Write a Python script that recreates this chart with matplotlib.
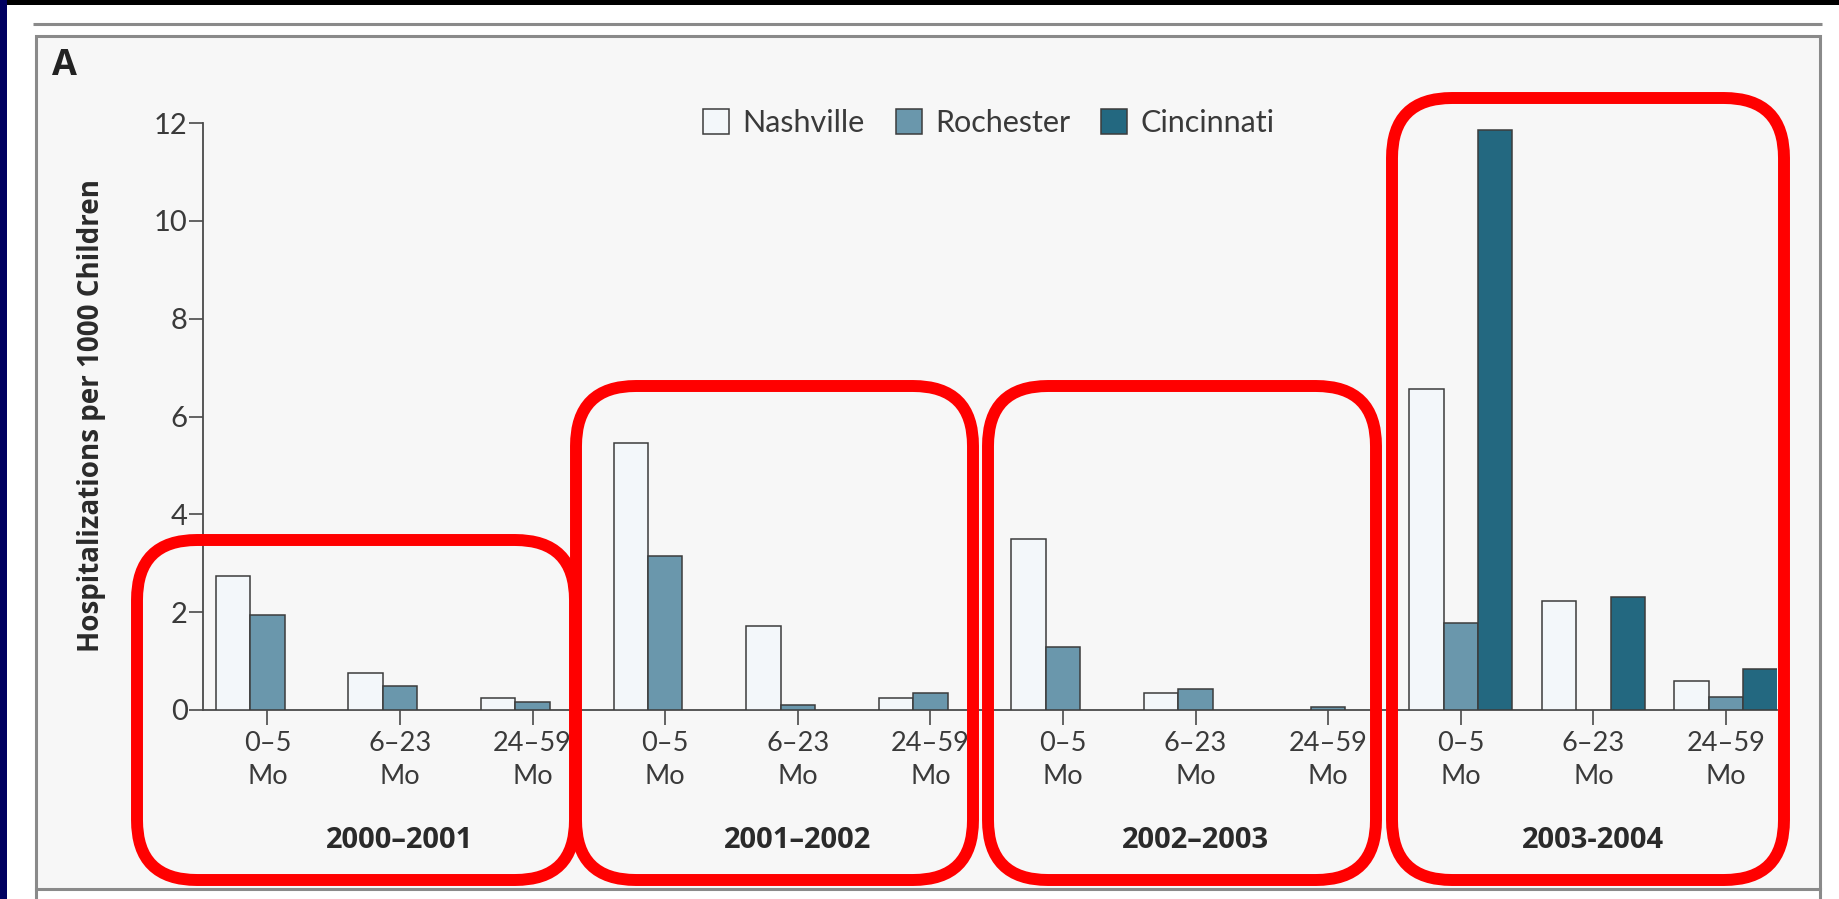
import numpy as np
import matplotlib
matplotlib.use("Agg")
import matplotlib.pyplot as plt
from matplotlib.patches import Rectangle, FancyBboxPatch, Patch

# ---- data -------------------------------------------------------------
seasons = ["2000–2001", "2001–2002", "2002–2003", "2003-2004"]
age_groups = ["0–5\nMo", "6–23\nMo", "24–59\nMo"]
cities = ["Nashville", "Rochester", "Cincinnati"]

nan = np.nan
nashville = [2.73, 0.76, 0.24, 5.46, 1.71, 0.24, 3.50, 0.34, nan, 6.57, 2.22, 0.59]
rochester = [1.94, 0.50, 0.16, 3.15, 0.10, 0.34, 1.28, 0.42, 0.07, 1.78, nan, 0.26]
cincinnati = [nan, nan, nan, nan, nan, nan, nan, nan, nan, 11.85, 2.30, 0.84]

y_ticks = [0, 2, 4, 6, 8, 10, 12]
y_label = "Hospitalizations per 1000 Children"
panel_letter = "A"

# ---- styling ----------------------------------------------------------
colors = ["#f3f7fa", "#6a97ac", "#236880"]
edge = "#3c3c3c"
text_col = "#3a3a3a"
panel_bg = "#f7f7f7"
frame_col = "#8a8a8a"
regular = ["Lato", "DejaVu Sans"]
bold = ["Open Sans", "DejaVu Sans"]

W, H = 1839, 899
fig = plt.figure(figsize=(W / 100, H / 100), dpi=100)
fig.patch.set_facecolor("white")

# background layer in pixel coordinates (y measured from the top)
bg = fig.add_axes([0, 0, 1, 1], zorder=0)
bg.set_xlim(0, W)
bg.set_ylim(H, 0)
bg.axis("off")
bg.add_patch(Rectangle((0, 0), W, 5, color="black", lw=0))
bg.add_patch(Rectangle((0, 0), 7, H, color="#000060", lw=0))
bg.plot([33, 1822], [24, 24], color=frame_col, lw=2.2, solid_capstyle="butt")
bg.add_patch(Rectangle((36, 36), 1784, 853, facecolor=panel_bg,
                       edgecolor=frame_col, lw=2.2))
bg.plot([36, 36], [889, H], color=frame_col, lw=2.2)
bg.plot([1820, 1820], [889, H], color=frame_col, lw=2.2)
bg.text(52, 66, panel_letter, fontsize=26, fontweight="bold",
        family=bold, color="#222222", va="center", ha="left")

# ---- main chart -------------------------------------------------------
ax = fig.add_axes([203 / W, 189 / H, 1574 / W, 587 / H], zorder=1)
ax.patch.set_alpha(0)

x = np.arange(len(nashville))
bw = 0.26
for k, (vals, c) in enumerate(zip([nashville, rochester, cincinnati], colors)):
    vals = np.asarray(vals, dtype=float)
    ok = ~np.isnan(vals)
    ax.bar(x[ok] + (k - 1) * bw, vals[ok], width=bw, color=c,
           edgecolor=edge, linewidth=1.1, zorder=3)

ax.set_xlim(-0.486, 11.385)
ax.set_ylim(0, 12)
for s in ("top", "right"):
    ax.spines[s].set_visible(False)
ax.spines["left"].set_bounds(0, 12)
for s in ("left", "bottom"):
    ax.spines[s].set_color("#4a4a4a")
    ax.spines[s].set_linewidth(1.3)

ax.set_yticks(y_ticks)
ax.set_yticklabels([str(t) for t in y_ticks], family=regular, fontsize=21,
                   color=text_col)
ax.tick_params(axis="y", length=10, width=1.2, color="#4a4a4a", pad=1)
ax.set_xticks(x)
ax.set_xticklabels(age_groups * len(seasons), family=regular, fontsize=19.5,
                   color=text_col, linespacing=1.4)
ax.tick_params(axis="x", length=11, width=1.2, color="#4a4a4a", pad=4)

for i, s in enumerate(seasons):
    ax.text(3 * i + 1, -130 / 587, s, transform=ax.get_xaxis_transform(),
            ha="center", va="center", fontsize=21, fontweight="bold",
            family=bold, color="#2a2a2a")

fig.text(92 / W, 1 - 416 / H, y_label, rotation=90, ha="center", va="center",
         fontsize=20, fontweight="bold", family=bold, color="#2a2a2a")

handles = [Patch(facecolor=c, edgecolor=edge, linewidth=1.1) for c in colors]
leg = ax.legend(handles, cities, loc="center left", ncol=3, frameon=False,
                bbox_to_anchor=(703 / W, 1 - 123 / H),
                bbox_transform=fig.transFigure,
                prop={"family": regular, "size": 22},
                handlelength=0.85, handleheight=0.85, handletextpad=0.45,
                columnspacing=1.0, borderaxespad=0, borderpad=0)
for t in leg.get_texts():
    t.set_color(text_col)

# ---- highlight frames -------------------------------------------------
fg = fig.add_axes([0, 0, 1, 1], zorder=5)
fg.set_xlim(0, W)
fg.set_ylim(H, 0)
fg.axis("off")
fg.patch.set_alpha(0)
frames = [(137, 540, 575, 880), (576, 386, 973, 880),
          (988, 386, 1376, 880), (1392, 98, 1784, 880)]
for x0, y0, x1, y1 in frames:
    fg.add_patch(FancyBboxPatch((x0, y0), x1 - x0, y1 - y0,
                                boxstyle="round,pad=0,rounding_size=60",
                                facecolor="none", edgecolor="#ff0000",
                                linewidth=8.6))

fig.savefig("out.png", dpi=100, facecolor=fig.get_facecolor())
